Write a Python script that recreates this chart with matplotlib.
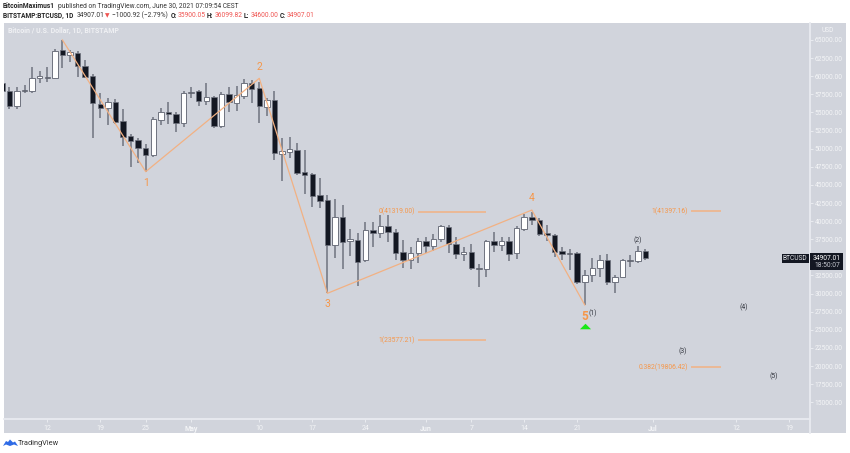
import numpy as np
import pandas as pd
import matplotlib
matplotlib.use("Agg")
import matplotlib.pyplot as plt
from matplotlib.patches import Rectangle, Polygon
from matplotlib.lines import Line2D

plt.rcParams['font.family'] = ['Roboto', 'DejaVu Sans']

# daily candles, 6 Apr - 30 Jun 2021
dates = pd.date_range('2021-04-06', '2021-06-30')
opens = [59100, 57960, 55850, 58100, 58000, 59710, 59900, 59760, 63620, 62890, 63250, 61450, 60030, 56210, 55660, 56440,
         53780, 51750, 51160, 50100, 49090, 54000, 55060, 54830, 53590, 57870, 57920, 56580, 57180, 53170, 57500, 56340,
         57310, 59020, 58330, 55800, 56720, 49300, 49580, 49820, 46740, 46470, 43560, 42920, 36710, 40530, 37220, 37400,
         34640, 38780, 38320, 39290, 38550, 35700, 34640, 35560, 37260, 36620, 37540, 39230, 36800, 35430, 35740, 33530,
         33360, 37300, 36670, 37260, 35560, 38920, 40530, 40160, 38370, 38050, 35880, 35600, 35560, 31560, 32530, 33580,
         34590, 31560, 32230, 34700, 34470, 35900]
highs = [59300, 58470, 58470, 58790, 61230, 60720, 61230, 63800, 65000, 63620, 63520, 62300, 60300, 57640, 56960, 56860,
         55480, 52030, 51430, 50650, 54340, 55570, 56440, 55100, 57920, 58560, 58100, 59020, 57300, 57790, 58470, 58650,
         59580, 59480, 59250, 57040, 57960, 51440, 51570, 50730, 49820, 46700, 45920, 43610, 43010, 42230, 38920, 38320,
         39930, 39930, 40850, 40850, 38920, 37400, 36480, 37630, 37860, 38230, 39470, 39470, 37860, 36480, 36800, 34090,
         37400, 38460, 37860, 37860, 39330, 40990, 41300, 40390, 39470, 38190, 36480, 36100, 35700, 33260, 34960, 35330,
         35470, 32570, 34780, 35330, 36570, 36100]
lows = [57870, 55430, 55500, 57640, 57730, 59110, 59250, 59600, 61100, 62000, 59930, 59700, 51440, 54190, 53270, 53370,
        50370, 47510, 47980, 46830, 48900, 53270, 53400, 52300, 52950, 56960, 55890, 56030, 52900, 52810, 55100, 55240,
        56860, 56260, 53500, 54510, 48440, 45580, 48760, 46370, 43700, 42000, 41860, 30040, 34860, 33400, 35200, 31050,
        34320, 36400, 37720, 37170, 34640, 33580, 33360, 34190, 35560, 35880, 37170, 35600, 34780, 34540, 33260, 30960,
        32340, 35700, 35880, 34540, 34730, 38680, 39470, 37990, 37300, 35100, 34640, 33260, 31280, 28430, 31600, 32250,
        31190, 30040, 32110, 33710, 34190, 34600]
closes = [57960, 55890, 58000, 58000, 59760, 59990, 59800, 63520, 62930, 63300, 61410, 59930, 56260, 55660, 56440, 53720,
          51570, 51060, 50050, 49090, 54060, 55060, 54790, 53590, 57730, 57730, 56580, 57090, 53170, 57500, 56440, 57410,
          59020, 58240, 55890, 56720, 49360, 49680, 49900, 46600, 46370, 43510, 42780, 36710, 40620, 37170, 37540, 34400,
          38780, 38320, 39290, 38500, 35650, 34640, 35650, 37260, 36620, 37540, 39290, 36800, 35470, 35800, 33480, 33360,
          37300, 36710, 37260, 35470, 39010, 40530, 40120, 38190, 38050, 35800, 35470, 35470, 31560, 32530, 33580, 34590,
          31560, 32230, 34700, 34470, 35880, 34907]

# elliott wave path
wave_dates = ['2021-04-14', '2021-04-25', '2021-05-10', '2021-05-19', '2021-06-15', '2021-06-22']
wave_prices = [65000, 46830, 59710, 30040, 41530, 28430]
wave_labels = ['', '1', '2', '3', '4', '5']

# fib levels
fib_texts = ['0(41319.00)', '1(23577.21)', '1(41397.16)', '0.382(19806.42)']
fib_prices = [41319.00, 23577.21, 41397.16, 19806.42]
fib_starts = ['2021-05-31', '2021-05-31', '2021-07-06', '2021-07-06']
fib_ends = ['2021-06-09', '2021-06-09', '2021-07-10', '2021-07-10']

# small black wave count
count_texts = ['(1)', '(2)', '(3)', '(4)', '(5)']
count_dates = ['2021-06-23', '2021-06-29', '2021-07-05', '2021-07-13', '2021-07-17']
count_prices = [27320, 37400, 22080, 28150, 18630]

price_ticks = np.arange(15000, 65001, 2500)
time_ticks = ['2021-04-12', '2021-04-19', '2021-04-25', '2021-05-01', '2021-05-10', '2021-05-17', '2021-05-24',
              '2021-06-01', '2021-06-07', '2021-06-14', '2021-06-21', '2021-07-01', '2021-07-12', '2021-07-19']
time_labels = ['12', '19', '25', 'May', '10', '17', '24', 'Jun', '7', '14', '21', 'Jul', '12', '19']

BG = '#d1d4dc'
AXIS = '#e9ebf0'
DARK = '#131722'
WICK = '#6f737f'
ORANGE = '#f6974a'
LINE = '#f2b183'
W, H = 850, 453


def fx(px):
    return px / W


def fy(py):
    return 1 - py / H


fig = plt.figure(figsize=(8.5, 4.53), dpi=100, facecolor='white')
fig.patches.append(Rectangle((fx(4), fy(433)), 842 / W, 410 / H, transform=fig.transFigure, color=BG, lw=0, zorder=-5))

ax = fig.add_axes([fx(4), fy(419), 806 / W, 396 / H])
ax.patch.set_alpha(0)
t0 = pd.Timestamp('2021-04-12')
ax.set_xlim(t0 - pd.Timedelta(days=5.72), t0 + pd.Timedelta(days=100.75))
ax.set_ylim(12695, 67346)

opens = np.array(opens)
closes = np.array(closes)
up = closes >= opens
ax.vlines(dates, lows, highs, color=WICK, lw=1.1, zorder=2)
ax.bar(dates[up], (closes - opens)[up], bottom=opens[up], width=0.72, color='white', edgecolor=WICK, lw=0.7, zorder=3)
ax.bar(dates[~up], (opens - closes)[~up], bottom=closes[~up], width=0.72, color=DARK, edgecolor=WICK, lw=0.5, zorder=3)

wave_x = pd.to_datetime(wave_dates)
ax.plot(wave_x, wave_prices, color=LINE, lw=0.9, zorder=4)
for x, p, s in zip(wave_x, wave_prices, wave_labels):
    if not s:
        continue
    off = -8 if s in ('1', '3', '5') else 8.5
    ax.annotate(s, (x, p), xytext=(0, off), textcoords='offset points', ha='center', va='center', color=ORANGE,
                fontsize=8.5 if s == '5' else 7.5, fontweight='bold' if s == '5' else 'normal', zorder=5)

for s, p, a, b in zip(fib_texts, fib_prices, fib_starts, fib_ends):
    ax.hlines(p, pd.Timestamp(a), pd.Timestamp(b), color=LINE, lw=1.1, zorder=4)
    ax.annotate(s, (pd.Timestamp(a), p), xytext=(-2, 0), textcoords='offset points', ha='right', va='center',
                color=ORANGE, fontsize=4.9, zorder=5)

for s, d, p in zip(count_texts, count_dates, count_prices):
    ax.text(pd.Timestamp(d), p, s, ha='center', va='center', color='#33363f', fontsize=4.9, zorder=5)

# buy marker under wave 5
ax.plot([pd.Timestamp('2021-06-22')], [25530], marker=[(-1, -0.5), (1, -0.5), (0, 0.5)], ms=8, color='#18e818', mew=0, zorder=5)

ax.spines[['top', 'left']].set_visible(False)
ax.spines[['right', 'bottom']].set_color(AXIS)
ax.spines[['right', 'bottom']].set_linewidth(1.3)
ax.yaxis.tick_right()
ax.set_yticks(price_ticks)
# the 35000 label sits behind the last price tag
ax.set_yticklabels(['' if p == 35000 else '%.2f' % p for p in price_ticks])
ax.set_xticks(pd.to_datetime(time_ticks))
ax.set_xticklabels(time_labels)
ax.tick_params(axis='y', length=2, width=0.7, color=AXIS, labelcolor='#f4f5f7', labelsize=4.8, pad=1.5)
ax.tick_params(axis='x', length=2, width=0.7, color=AXIS, labelcolor='#f4f5f7', labelsize=5, pad=2)
for lab, s in zip(ax.get_xticklabels(), time_labels):
    if s in ('May', 'Jun', 'Jul'):
        lab.set_fontweight('bold')
fig.add_artist(Line2D([fx(810), fx(810)], [fy(419), fy(433)], color=AXIS, lw=1.3))

fig.text(fx(828), fy(31), 'USD', color='#f4f5f7', fontsize=4.8, ha='center', va='center')
fig.text(fx(8), fy(31), 'Bitcoin / U.S. Dollar, 1D, BITSTAMP', color='#f0f1f4', fontsize=5, fontweight='bold', va='center')

# last price tags
fig.patches.append(Rectangle((fx(781.5), fy(262.5)), 27.5 / W, 8.5 / H, transform=fig.transFigure, color=DARK, lw=0))
fig.patches.append(Rectangle((fx(810), fy(270)), 33 / W, 17 / H, transform=fig.transFigure, color=DARK, lw=0))
fig.text(fx(795), fy(258.3), 'BTCUSD', color='#e4e6ea', fontsize=4.8, ha='center', va='center')
fig.text(fx(827), fy(258.3), '34907.01', color='white', fontsize=4.9, ha='center', va='center')
fig.text(fx(827), fy(265.7), '18:50:07', color='#c4c7cf', fontsize=4.9, ha='center', va='center')

# header
HEAD = 4.8
fig.text(fx(3), fy(6.5), 'BitcoinMaximus1', color='#222', fontsize=HEAD, fontweight='bold', va='center')
fig.text(fx(58), fy(6.5), 'published on TradingView.com, June 30, 2021 07:09:54 CEST', color='#333', fontsize=HEAD, va='center')
fig.text(fx(3), fy(15.5), 'BITSTAMP:BTCUSD, 1D', color='#222', fontsize=HEAD, fontweight='bold', va='center')
fig.text(fx(77), fy(15.5), '34907.01', color='#333', fontsize=HEAD, va='center')
fig.text(fx(105), fy(15.5), '▼', color='#ef5350', fontsize=4.2, va='center')
fig.text(fx(112), fy(15.5), '−1000.92 (−2.79%)', color='#333', fontsize=HEAD, va='center')
for x, vx, k, v in zip([171, 207, 244, 279.5], [178, 215, 251, 287], ['O:', 'H:', 'L:', 'C:'],
                       ['35900.05', '36099.82', '34600.00', '34907.01']):
    fig.text(fx(x), fy(15.5), k, color='#222', fontsize=HEAD, fontweight='bold', va='center')
    fig.text(fx(vx), fy(15.5), v, color='#ef5350', fontsize=HEAD, va='center')

# footer logo
fig.patches.append(Polygon([(fx(p), fy(q)) for p, q in [(3, 446), (6, 441), (8, 442), (10, 439.5), (13, 442.5), (15, 441.5), (18, 446), (14, 444.5), (10, 446), (6, 444.5)]],
                           closed=True, transform=fig.transFigure, color='#2e6be6', lw=0))
fig.text(fx(18), fy(443.5), 'TradingView', color='#333', fontsize=5.3, va='center')

fig.savefig('out.png', dpi=100)
